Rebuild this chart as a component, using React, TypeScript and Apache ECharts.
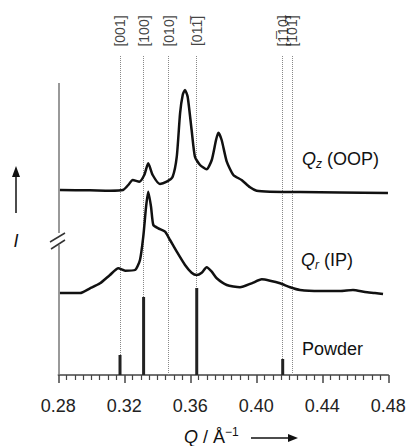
import React, { useEffect, useRef } from "react";
import * as echarts from "echarts";

// Q (Å^-1) and intensity (arbitrary units, offset stacked)
const qzQ = [0.281, 0.2992, 0.3113, 0.3192, 0.3224, 0.3251, 0.3291, 0.3321, 0.3345, 0.3372, 0.3416, 0.3457, 0.3493, 0.3518, 0.3538, 0.3554, 0.3568, 0.3584, 0.3608, 0.3628, 0.3659, 0.3699, 0.373, 0.3756, 0.377, 0.379, 0.3821, 0.3861, 0.3911, 0.3962, 0.4002, 0.4083, 0.4265, 0.4507, 0.4798];
const qzI = [185, 184.7, 184.3, 185, 190, 195, 193.3, 200, 211.7, 200, 191, 193.3, 198.3, 218.3, 261.7, 280, 285, 278.3, 245, 218.3, 210, 205.7, 215, 235, 242.3, 235, 213.3, 200, 195, 187.7, 184.3, 183.3, 183, 182.5, 182];

const qrQ = [0.281, 0.2932, 0.2992, 0.3053, 0.3113, 0.3164, 0.3205, 0.3265, 0.3295, 0.3315, 0.3332, 0.3345, 0.3362, 0.3376, 0.3406, 0.3447, 0.3477, 0.3518, 0.3568, 0.3608, 0.3639, 0.3669, 0.3699, 0.373, 0.376, 0.3821, 0.3901, 0.3972, 0.4033, 0.4083, 0.4144, 0.4205, 0.4265, 0.4386, 0.4507, 0.4586, 0.4659, 0.4719, 0.4768];
const qrI = [82, 82, 86.7, 91.7, 100, 106.7, 104.3, 105, 115, 138.3, 168.3, 183.3, 168.3, 150, 146.7, 143.3, 135, 123.3, 110, 102.3, 100, 102.3, 107.7, 103.3, 96.7, 90, 87.7, 91.7, 95.7, 94.3, 91.7, 87.7, 85, 84, 84, 85, 83, 82, 81];

const powderQ = [0.3174, 0.3317, 0.3639, 0.416];
const powderI = [20, 78, 87, 16];

const reflQ = [0.3174, 0.3317, 0.3469, 0.3639, 0.416, 0.4215];
const reflLabels = ["[001]", "[100]", "[010]", "[011\u0305]", "[1\u030510]", "[101\u0305]"];

const xTicks = { min: 0.28, max: 0.48, interval: 0.04 };
const FONT = "'Liberation Sans', Arial, sans-serif";

export default function App() {
  const ref = useRef<HTMLDivElement>(null);
  useEffect(() => {
    if (!ref.current) return;
    const chart = echarts.init(ref.current, null, { renderer: "svg" });
    const zip = (a: number[], b: number[]) => a.map((v, i) => [v, b[i]]);
    const option: any = {
      animation: false,
      backgroundColor: "#fff",
      grid: { left: 58.3, right: 18.7, top: 0, bottom: 71, outerBoundsMode: "none" },
      xAxis: {
        type: "value",
        min: xTicks.min,
        max: xTicks.max,
        interval: xTicks.interval,
        axisLine: { lineStyle: { color: "#444", width: 1.5 } },
        axisTick: { length: 8, lineStyle: { color: "#444", width: 1.5 } },
        minorTick: { show: true, splitNumber: 8, length: 5, lineStyle: { color: "#444", width: 1.2 } },
        splitLine: { show: false },
        axisLabel: {
          formatter: (v: number) => v.toFixed(2),
          fontSize: 18,
          fontFamily: FONT,
          color: "#222",
          margin: 22,
        },
      },
      yAxis: { type: "value", min: 0, max: 375, show: false },
      series: [
        {
          type: "line",
          data: zip(qzQ, qzI),
          showSymbol: false,
          smooth: 0.2,
          lineStyle: { color: "#111", width: 2.5, join: "round" },
          z: 5,
          markLine: {
            silent: true,
            symbol: ["none", "none"],
            label: { show: false },
            lineStyle: { color: "#888", width: 1, type: [1, 1] },
            data: reflQ.map((q) => [{ coord: [q, 0] }, { coord: [q, 320] }]),
          },
        },
        {
          type: "line",
          data: zip(qrQ, qrI),
          showSymbol: false,
          smooth: 0.2,
          lineStyle: { color: "#111", width: 2.5, join: "round" },
          z: 5,
          markLine: {
            silent: true,
            symbol: ["none", "none"],
            label: { show: false },
            lineStyle: { color: "#777", width: 1.5, type: "solid" },
            data: [
              [{ coord: [0.28, 0] }, { coord: [0.28, 130] }],
              [{ coord: [0.28, 142] }, { coord: [0.28, 292] }],
            ],
          },
        },
        {
          type: "bar",
          data: zip(powderQ, powderI),
          barWidth: 3,
          itemStyle: { color: "#222" },
          z: 10,
        },
        {
          type: "scatter",
          data: reflQ.map((q, i) => ({ value: [q, 344], name: reflLabels[i] })),
          symbolSize: 0,
          silent: true,
          label: {
            show: true,
            position: "inside",
            rotate: 90,
            formatter: (p: any) => p.name,
            fontSize: 14,
            fontFamily: FONT,
            color: "#111",
          },
        },
      ],
      graphic: [
        {
          type: "text",
          left: 302,
          top: 150,
          style: {
            text: "{q|Q}{sub|z} (OOP)",
            font: `18px ${FONT}`,
            fill: "#111",
            rich: {
              q: { fontStyle: "italic", fontSize: 18, fontFamily: FONT, lineHeight: 22 },
              sub: { fontStyle: "italic", fontSize: 12, fontFamily: FONT, lineHeight: 12, verticalAlign: "bottom" },
            },
          },
        },
        {
          type: "text",
          left: 301,
          top: 251,
          style: {
            text: "{q|Q}{sub|r} (IP)",
            font: `18px ${FONT}`,
            fill: "#111",
            rich: {
              q: { fontStyle: "italic", fontSize: 18, fontFamily: FONT, lineHeight: 22 },
              sub: { fontStyle: "italic", fontSize: 12, fontFamily: FONT, lineHeight: 12, verticalAlign: "bottom" },
            },
          },
        },
        {
          type: "text",
          left: 302,
          top: 340,
          style: { text: "Powder", font: `18px ${FONT}`, fill: "#111" },
        },
        {
          type: "text",
          left: 184,
          top: 426,
          style: {
            text: "{q|Q} / Å{sup|\u22121}",
            font: `18px ${FONT}`,
            fill: "#111",
            rich: {
              q: { fontStyle: "italic", fontSize: 18, fontFamily: FONT, lineHeight: 22 },
              sup: { fontSize: 12, fontFamily: FONT, lineHeight: 12, verticalAlign: "top" },
            },
          },
        },
        { type: "line", shape: { x1: 251, y1: 438, x2: 290, y2: 438 }, style: { stroke: "#111", lineWidth: 1.5 } },
        { type: "polygon", shape: { points: [[298, 438], [288, 434], [288, 442]] }, style: { fill: "#111" } },
        { type: "line", shape: { x1: 16, y1: 213, x2: 16, y2: 175 }, style: { stroke: "#111", lineWidth: 1.5 } },
        { type: "polygon", shape: { points: [[16, 166], [12, 177], [20, 177]] }, style: { fill: "#111" } },
        {
          type: "text",
          x: 16,
          y: 241,
          style: { text: "I", font: `italic 18px ${FONT}`, fill: "#111", align: "center", verticalAlign: "middle" },
        },
        { type: "line", shape: { x1: 50, y1: 242, x2: 65, y2: 233 }, style: { stroke: "#333", lineWidth: 1.5 } },
        { type: "line", shape: { x1: 51, y1: 249, x2: 65, y2: 240 }, style: { stroke: "#333", lineWidth: 1.5 } },
      ],
    };
    chart.setOption(option);
    return () => chart.dispose();
  }, []);
  return <div ref={ref} style={{ position: "fixed", left: 0, top: 0, width: 407, height: 446 }} />;
}
